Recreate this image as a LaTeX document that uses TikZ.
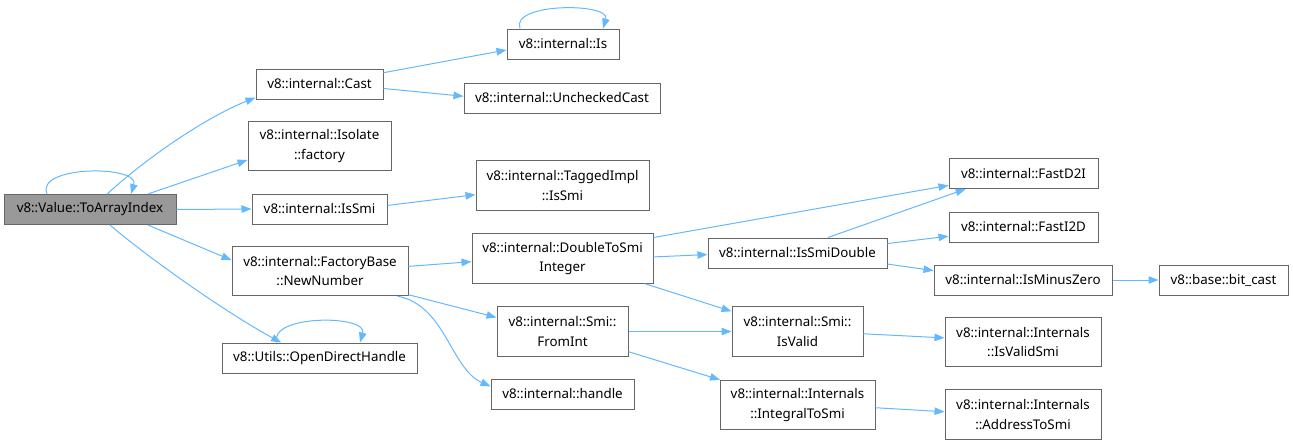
\documentclass[tikz,border=0pt]{standalone}
\usepackage{fontspec}
\setmainfont{Noto Sans}
\usetikzlibrary{arrows.meta}
\definecolor{edgeblue}{HTML}{63B8FF}
\definecolor{boxgray}{HTML}{666666}
\definecolor{rootfill}{HTML}{999999}

\begin{document}
\begin{tikzpicture}[
    x=0.75pt, y=-0.75pt,
    every node/.style={
        draw=boxgray,
        line width=0.75pt,
        fill=white,
        align=center,
        inner xsep=3pt,
        inner ysep=0pt,
        minimum height=22.5pt,
        font=\fontsize{10}{14.5}\selectfont
    },
    wd/.style={minimum width=#1*0.75pt},
    tall/.style={minimum height=37pt},
    root/.style={fill=rootfill},
    arrow/.style={-{Triangle[length=7.5pt,width=5.6pt]}, draw=edgeblue, line width=0.75pt}
]
\useasboundingbox (0,0) rectangle (1293,446);

% --- Caller ---
\node[root, wd=172] (tai) at (90,209.5) {v8::Value::ToArrayIndex};

% --- First level ---
\node[wd=127] (cast) at (319.5,84) {v8::internal::Cast};
\node[wd=143, tall] (fac) at (319.5,146) {v8::internal::Isolate\\::factory};
\node[wd=135] (ismi) at (319.5,209) {v8::internal::IsSmi};
\node[wd=176, tall] (nn) at (320,271) {v8::internal::FactoryBase\\::NewNumber};
\node[wd=195] (odh) at (319.5,358) {v8::Utils::OpenDirectHandle};

% --- Second level ---
\node[wd=112] (is) at (563,44) {v8::internal::Is};
\node[wd=196] (uc) at (562,98) {v8::internal::UncheckedCast};
\node[wd=173, tall] (tis) at (562.5,185.5) {v8::internal::TaggedImpl\\::IsSmi};
\node[wd=181, tall] (dts) at (562.5,258.5) {v8::internal::DoubleToSmi\\Integer};
\node[wd=131, tall] (sfi) at (562.5,331.5) {v8::internal::Smi::\\FromInt};
\node[wd=143] (hd) at (562.5,394) {v8::internal::handle};

% --- Third level ---
\node[wd=179] (isd) at (797.5,253) {v8::internal::IsSmiDouble};
\node[wd=131, tall] (siv) at (797.5,331.5) {v8::internal::Smi::\\IsValid};
\node[wd=155, tall] (its) at (797.5,405) {v8::internal::Internals\\::IntegralToSmi};

% --- Fourth level ---
\node[wd=149] (fd2i) at (1023.5,173.5) {v8::internal::FastD2I};
\node[wd=149] (fi2d) at (1023.5,227) {v8::internal::FastI2D};
\node[wd=178] (imz) at (1023,280) {v8::internal::IsMinusZero};
\node[wd=156, tall] (ivs) at (1023,342) {v8::internal::Internals\\::IsValidSmi};
\node[wd=156, tall] (ats) at (1023,414.5) {v8::internal::Internals\\::AddressToSmi};
\node[wd=129] (bc) at (1223.5,280) {v8::base::bit\_cast};

% --- Arrows ---
\draw[arrow] ([xshift=-32.25pt]tai.north) .. controls +(-12,-29) and +(9,-29) .. ([xshift=30.75pt]tai.north);
\draw[arrow] (tai.42) .. controls +(40,-37) and +(-48,19) .. (cast.192);
\draw[arrow] (tai.15) -- (fac.191);
\draw[arrow] (tai.east) -- (ismi.west);
\draw[arrow] (tai.-15) -- (nn.173);
\draw[arrow] (tai.-38) .. controls +(45,38) and +(-50,-27) .. (odh.158);

\draw[arrow] (cast.10) -- (is.186);
\draw[arrow] (cast.-4) -- (uc.179);
\draw[arrow] ([xshift=-32.25pt]is.north) .. controls +(-10,-26) and +(8,-26) .. ([xshift=30pt]is.north);
\draw[arrow] (ismi.3) -- (tis.186);
\draw[arrow] (nn.3) -- (dts.182);
\draw[arrow] (nn.-15) -- (sfi.168);
\draw[arrow] (nn.-18) .. controls +(48,9) and +(-40,-18) .. (hd.174);
\draw[arrow] ([xshift=-31.9pt]odh.north) .. controls +(-9,-28) and +(8,-28) .. ([xshift=30.4pt]odh.north);

\draw[arrow] (dts.13) -- (fd2i.189);
\draw[arrow] (dts.1) -- (isd.181);
\draw[arrow] (dts.-17) -- (siv.163);
\draw[arrow] (isd.27) -- (fd2i.195);
\draw[arrow] (isd.6) -- (fi2d.187);
\draw[arrow] (isd.-7) -- (imz.174);
\draw[arrow] (imz.east) -- (bc.west);

\draw[arrow] (sfi.east) -- (siv.west);
\draw[arrow] (sfi.-17) -- (its.162);
\draw[arrow] (siv.-2) -- (ivs.177);
\draw[arrow] (its.-2) -- (ats.178);

\end{tikzpicture}
\end{document}
